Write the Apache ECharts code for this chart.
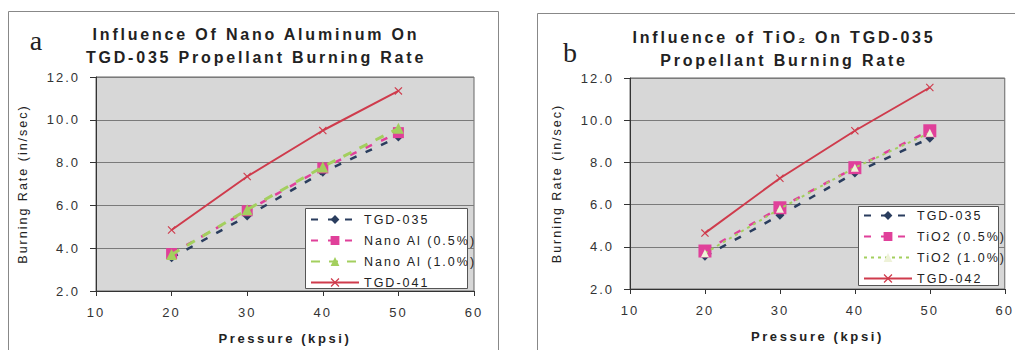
<!DOCTYPE html>
<html><head><meta charset="utf-8">
<script src="https://cdn.jsdelivr.net/npm/echarts@6/dist/echarts.min.js"></script>
<style>html,body{margin:0;padding:0;background:#fff}#c{width:1015px;height:350px}
#c svg text{letter-spacing:2px}</style>
</head><body><div id="c"></div>
<script>
// ---- data ----
const pressures = [20, 30, 40, 50];
const xTicks = [10, 20, 30, 40, 50, 60];
const yTicks = [2, 4, 6, 8, 10, 12];

const titleA = ['Influence Of Nano Aluminum On', 'TGD-035 Propellant Burning Rate'];
const titleB = ['Influence of TiO\u2082 On TGD-035', 'Propellant Burning Rate'];
const namesA = ['TGD-035', 'Nano Al (0.5%)', 'Nano Al (1.0%)', 'TGD-041'];
const namesB = ['TGD-035', 'TiO2 (0.5%)', 'TiO2 (1.0%)', 'TGD-042'];

const a_tgd035 = [3.55, 5.5, 7.55, 9.2];
const a_nano05 = [3.75, 5.75, 7.75, 9.4];
const a_nano10 = [3.7, 5.8, 7.8, 9.6];
const a_tgd041 = [4.85, 7.35, 9.5, 11.35];

const b_tgd035 = [3.55, 5.5, 7.5, 9.15];
const b_tio05 = [3.8, 5.85, 7.75, 9.5];
const b_tio10 = [3.7, 5.8, 7.75, 9.4];
const b_tgd042 = [4.65, 7.25, 9.5, 11.55];

// ---- styles ----
const NAVY = '#2a3d5e', MAG = '#e0409a', GREEN = '#a3cf5e', RED = '#cf3b4c';
const XSYM = 'path://M0,1L1,0L5,4L9,0L10,1L6,5L10,9L9,10L5,6L1,10L0,9L4,5Z';
const FONT = '"Liberation Sans", Arial, sans-serif';
const pts = v => pressures.map((p, i) => [p, v[i]]);

function axes(idx) {
  const x = {
    type: 'value', gridIndex: idx, min: 10, max: 60, interval: 10,
    name: 'Pressure (kpsi)', nameLocation: 'middle', nameGap: 41,
    nameTextStyle: {fontFamily: FONT, fontWeight: 'bold', fontSize: 13, color: '#222'},
    axisLine: {show: true, lineStyle: {color: '#333'}},
    axisTick: {show: true, inside: false, length: 5, lineStyle: {color: '#333'}},
    axisLabel: {fontFamily: FONT, fontSize: 13, color: '#333', margin: 15},
    splitLine: {show: false}
  };
  const y = {
    type: 'value', gridIndex: idx, min: 2, max: 12, interval: 2,
    name: 'Burning Rate (in/sec)', nameLocation: 'middle', nameGap: 67,
    nameTextStyle: {fontFamily: FONT, fontSize: 12.5, color: '#222'},
    axisLine: {show: true, lineStyle: {color: '#333'}},
    axisTick: {show: true, inside: false, length: 6, lineStyle: {color: '#333'}},
    axisLabel: {fontFamily: FONT, fontSize: 13, color: '#333', margin: 16, formatter: v => v.toFixed(1)},
    splitLine: {show: true, lineStyle: {color: '#7a7a7a', width: 1}}
  };
  return [x, y];
}
const [xa, ya] = axes(0), [xb, yb] = axes(1);

function mkSeries(idx, names, d035, d05, d10, dref, bGreen) {
  return [
    {name: names[0], type: 'line', xAxisIndex: idx, yAxisIndex: idx, data: pts(d035),
     symbol: 'diamond', symbolSize: 9, itemStyle: {color: NAVY},
     lineStyle: {color: NAVY, width: 2.5, type: [7, 10]}, z: 2},
    {name: names[1], type: 'line', xAxisIndex: idx, yAxisIndex: idx, data: pts(d05),
     symbol: 'rect', symbolSize: idx ? 13 : 11, itemStyle: {color: MAG},
     lineStyle: {color: MAG, width: 2.5, type: [7, 10]}, z: 3},
    {name: names[2], type: 'line', xAxisIndex: idx, yAxisIndex: idx, data: pts(d10),
     symbol: 'triangle', symbolSize: idx ? 8 : 11, itemStyle: {color: idx ? '#eef2d8' : GREEN},
     lineStyle: {color: GREEN, width: bGreen, type: idx ? [3, 4] : [9, 9]}, z: 4},
    {name: names[3], type: 'line', xAxisIndex: idx, yAxisIndex: idx, data: pts(dref),
     symbol: XSYM, symbolSize: 8, itemStyle: {color: RED},
     lineStyle: {color: RED, width: 2}, z: 5}
  ];
}

function legend(idx, names, left, top) {
  return {
    data: names, orient: 'vertical', left: left, top: top,
    itemWidth: 48, itemHeight: 11, itemGap: 8, padding: 0,
    textStyle: {fontFamily: FONT, fontSize: 12.5, color: '#222'},
    selectedMode: false, z: 10
  };
}

const option = {
  animation: false,
  backgroundColor: '#fff',
  grid: [
    {left: 96, top: 77, width: 378, height: 214, show: true, backgroundColor: '#d7d7d7', borderColor: '#666', borderWidth: 1},
    {left: 630, top: 78, width: 378, height: 211, show: true, backgroundColor: '#d7d7d7', borderColor: '#666', borderWidth: 1}
  ],
  xAxis: [xa, xb],
  yAxis: [ya, yb],
  legend: [legend(0, namesA, 310, 213), legend(1, namesB, 863, 209)],
  series: [...mkSeries(0, namesA, a_tgd035, a_nano05, a_nano10, a_tgd041, 3),
           ...mkSeries(1, namesB, b_tgd035, b_tio05, b_tio10, b_tgd042, 2)],
  graphic: [
    {type: 'rect', shape: {x: 8.5, y: 11.5, width: 490, height: 400}, style: {fill: 'none', stroke: '#888', lineWidth: 1}, z: 0, silent: true},
    {type: 'rect', shape: {x: 537.5, y: 13.5, width: 500, height: 400}, style: {fill: 'none', stroke: '#888', lineWidth: 1}, z: 0, silent: true},
    {type: 'rect', shape: {x: 305.5, y: 208.5, width: 162, height: 80}, style: {fill: '#fff', stroke: '#555', lineWidth: 1}, z: 8, silent: true},
    {type: 'rect', shape: {x: 858.5, y: 206.5, width: 140, height: 79}, style: {fill: '#fff', stroke: '#555', lineWidth: 1}, z: 8, silent: true},
    {type: 'text', x: 256, y: 23, style: {text: titleA.join('\n'), font: 'bold 16px ' + FONT, align: 'center', verticalAlign: 'top', lineHeight: 23, fill: '#222'}, z: 10},
    {type: 'text', x: 784, y: 26, style: {text: titleB.join('\n'), font: 'bold 16px ' + FONT, align: 'center', verticalAlign: 'top', lineHeight: 23, fill: '#222'}, z: 10},
    {type: 'text', x: 36, y: 40, style: {text: 'a', font: '28px "Liberation Serif", serif', align: 'center', verticalAlign: 'middle', fill: '#222'}, z: 10},
    {type: 'text', x: 570, y: 52, style: {text: 'b', font: '28px "Liberation Serif", serif', align: 'center', verticalAlign: 'middle', fill: '#222'}, z: 10}
  ]
};

const chart = echarts.init(document.getElementById('c'), null, {renderer: 'svg'});
chart.setOption(option);

function spacing() {
  document.querySelectorAll('#c svg text').forEach(t => {
    const cs = getComputedStyle(t);
    const fam = cs.fontFamily || '';
    const fs = parseFloat(cs.fontSize) || 12;
    const bold = (parseInt(cs.fontWeight) || 400) >= 600;
    let ls = 2;
    if (/Serif/.test(fam) && !/Sans/.test(fam)) ls = 0;
    else if (bold) ls = fs >= 14 ? 2.8 : 2.6;
    t.style.letterSpacing = ls + 'px';
  });
}
spacing();
chart.on('finished', spacing);
</script>
</body></html>
